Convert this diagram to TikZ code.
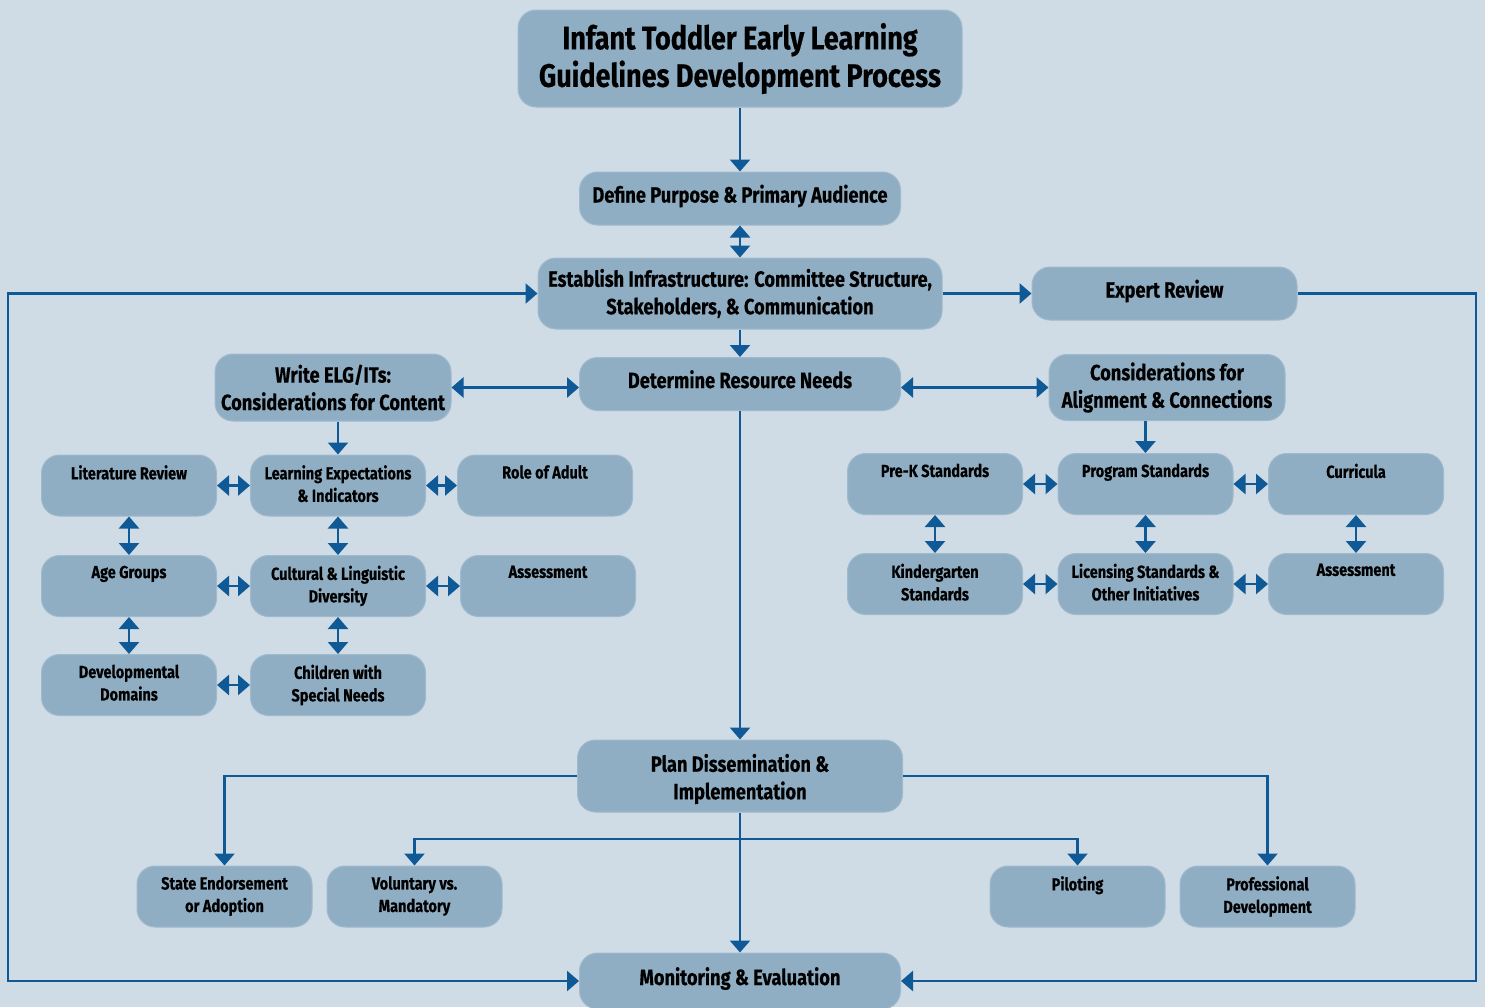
\documentclass[tikz,border=0pt]{standalone}
\usepackage{fontspec}
\setmainfont{Fira Sans}[FakeStretch=0.83, BoldFeatures={FakeBold=0.4}]
\usetikzlibrary{arrows.meta}
\definecolor{bgc}{HTML}{CFDCE6}
\definecolor{boxc}{HTML}{8FAEC4}
\definecolor{arc}{HTML}{0F5A96}
\definecolor{edgec}{HTML}{A0BACD}
\begin{document}
\begin{tikzpicture}[x=1pt,y=-1pt,
  box/.style={rounded corners=18pt, fill=boxc, draw=edgec, line width=1pt, inner sep=0pt, align=center, text=black},
  mtext/.style={font=\bfseries\fontsize{22}{27.5}\selectfont},
  oneline/.style={text height=16pt, text depth=8pt},
  sbox/.style={box, minimum width=175pt, minimum height=61pt},
  stext/.style={anchor=north, yshift=-10.5pt, align=center, inner sep=0pt, text=black, font=\bfseries\fontsize{17.5}{22.5}\selectfont},
  conn/.style={draw=arc, line width=2.6pt, -{Triangle[width=20pt,length=12pt]}},
  dbl/.style={draw=arc, line width=2.6pt, {Triangle[width=20pt,length=12pt]}-{Triangle[width=20pt,length=12pt]}},
]
\fill[bgc] (0,0) rectangle (1485,1007);
\useasboundingbox (0,0) rectangle (1485,1007);

% main column
\node[box, minimum width=444pt, minimum height=97pt, font=\bfseries\fontsize{32.5}{37.5}\selectfont] (title) at (740,58.5) {Infant Toddler Early Learning\\Guidelines Development Process};
\node[box, mtext, oneline, minimum width=321pt, minimum height=53pt] (define) at (740,198.5) {Define Purpose \& Primary Audience};
\node[box, mtext, minimum width=404pt, minimum height=71pt] (establish) at (740,293.5) {Establish Infrastructure: Committee Structure,\\Stakeholders, \& Communication};
\node[box, mtext, oneline, minimum width=265pt, minimum height=53pt] (expert) at (1164.5,293.5) {Expert Review};
\node[box, mtext, minimum width=236pt, minimum height=67pt] (write) at (333,387.5) {Write ELG/ITs:\\Considerations for Content};
\node[box, mtext, oneline, minimum width=321pt, minimum height=53pt] (determine) at (740,384) {Determine Resource Needs};
\node[box, mtext, minimum width=236pt, minimum height=66pt] (consid) at (1167,387.5) {Considerations for\\Alignment \& Connections};
\node[box, minimum width=325pt, minimum height=72pt, label={[mtext, align=center, inner sep=0pt, yshift=-3pt]center:{Plan Dissemination \&\\Implementation}}] (plan) at (740,776) {};
\node[box, mtext, oneline, minimum width=321pt, minimum height=56pt] (mon) at (740,981) {Monitoring \& Evaluation};

% left grid
\node[sbox, label={[stext]north:{Literature Review}}] (lit) at (129,485.5) {};
\node[sbox, label={[stext]north:{Learning Expectations\\\& Indicators}}] (learn) at (338,485.5) {};
\node[sbox, label={[stext]north:{Role of Adult}}] (role) at (545,485.5) {};
\node[sbox, label={[stext]north:{Age Groups}}] (age) at (129,586) {};
\node[sbox, label={[stext]north:{Cultural \& Linguistic\\Diversity}}] (cult) at (338,586) {};
\node[sbox, label={[stext]north:{Assessment}}] (assa) at (548,586) {};
\node[sbox, label={[stext]north:{Developmental\\Domains}}] (dev) at (129,685) {};
\node[sbox, label={[stext]north:{Children with\\Special Needs}}] (child) at (338,685) {};

% right grid
\node[sbox, label={[stext]north:{Pre-K Standards}}] (prek) at (935,484) {};
\node[sbox, label={[stext]north:{Program Standards}}] (prog) at (1145.5,484) {};
\node[sbox, label={[stext]north:{Curricula}}] (curr) at (1356,484) {};
\node[sbox, label={[stext]north:{Kindergarten\\Standards}}] (kind) at (935,584) {};
\node[sbox, label={[stext]north:{Licensing Standards \&\\Other Initiatives}}] (lic) at (1145.5,584) {};
\node[sbox, label={[stext]north:{Assessment}}] (assb) at (1356,584) {};

% bottom row
\node[sbox, label={[stext]north:{State Endorsement\\or Adoption}}] (state) at (224.5,896.5) {};
\node[sbox, label={[stext]north:{Voluntary vs.\\Mandatory}}] (vol) at (414.5,896.5) {};
\node[sbox, label={[stext]north:{Piloting}}] (pilot) at (1077.5,896.5) {};
\node[sbox, label={[stext]north:{Professional\\Development}}] (prof) at (1267.5,896.5) {};

\coordinate (lx) at (8,0);
\coordinate (rx) at (1476,0);
\coordinate (br) at (740,839);

% main connectors
\draw[conn] (title) -- (define);
\draw[dbl] (define) -- (establish);
\draw[conn] (establish) -- (determine);
\draw[conn] (establish.east) -- (expert.west);
\draw[dbl] (establish.west) -- (establish.west -| lx) |- (mon.west);
\draw[conn] (expert.east) -- (expert.east -| rx) |- (mon.east);
\draw[dbl] (write.east) -- (write.east -| determine.west);
\draw[dbl] (determine.east |- consid.west) -- (consid.west);
\draw[conn] (write.south -| learn.north) -- (learn.north);
\draw[conn] (prog.north |- consid.south) -- (prog.north);
\draw[conn] (determine) -- (plan);
\draw[conn] (plan.west) -| (state.north);
\draw[conn] (plan.east) -| (prof.north);
\draw[conn] (plan) -- (mon);
\draw[conn] (br) -| (vol.north);
\draw[conn] (br) -| (pilot.north);

% left grid connectors
\draw[dbl] (lit) -- (learn);
\draw[dbl] (learn) -- (role);
\draw[dbl] (age) -- (cult);
\draw[dbl] (cult) -- (assa);
\draw[dbl] (dev) -- (child);
\draw[dbl] (lit) -- (age);
\draw[dbl] (age) -- (dev);
\draw[dbl] (learn) -- (cult);
\draw[dbl] (cult) -- (child);

% right grid connectors
\draw[dbl] (prek) -- (prog);
\draw[dbl] (prog) -- (curr);
\draw[dbl] (kind) -- (lic);
\draw[dbl] (lic) -- (assb);
\draw[dbl] (prek) -- (kind);
\draw[dbl] (prog) -- (lic);
\draw[dbl] (curr) -- (assb);
\end{tikzpicture}
\end{document}
